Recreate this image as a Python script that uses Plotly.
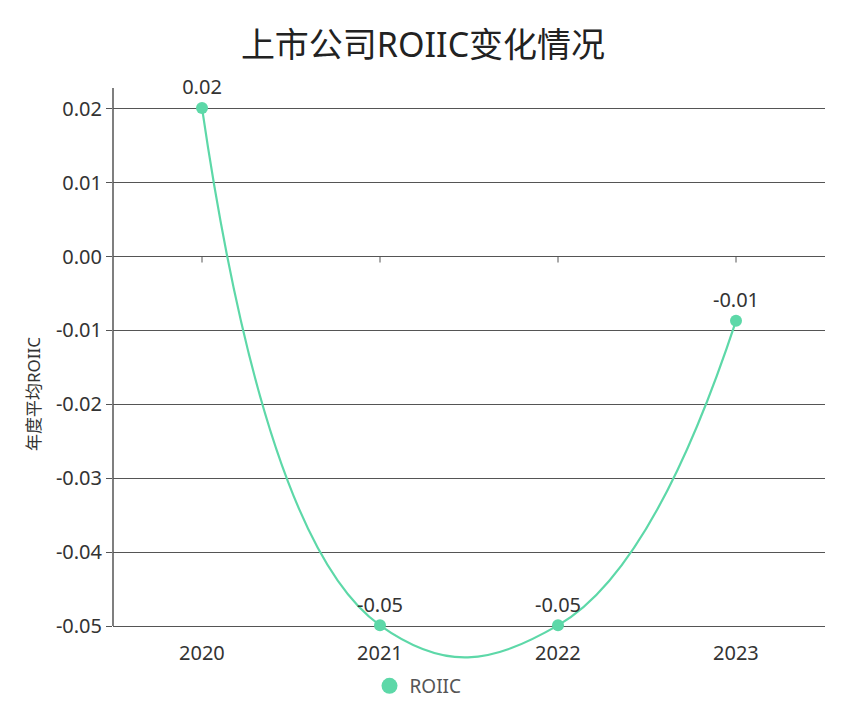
import plotly.graph_objects as go

years = ["2020", "2021", "2022", "2023"]
roiic = [0.0201, -0.0499, -0.0499, -0.0087]
labels = ["0.02", "-0.05", "-0.05", "-0.01"]
y_ticks = [0.02, 0.01, 0.0, -0.01, -0.02, -0.03, -0.04, -0.05]
y_tick_text = ["0.02", "0.01", "0.00", "-0.01", "-0.02", "-0.03", "-0.04", "-0.05"]

FONT = "Noto Sans, Noto Sans CJK SC, sans-serif"
GREEN = "#5DD8A8"
GRID = "#555555"
Y_TOP = 0.0228
Y_AXIS_MIN = -0.05
Y_VIEW_MIN = -0.060  # extra room so the smoothed curve can dip below the axis

# page has an 8px body margin: figure is sized to fit the 847x720 window
W, H = 839, 712
M_L, M_R, M_T, M_B = 105, 22, 80, 20
PLOT_H = H - M_T - M_B

fig = go.Figure()
# smoothed line (no legend entry)
fig.add_trace(go.Scatter(
    x=years, y=roiic, name="ROIIC", showlegend=False,
    mode="lines",
    line=dict(color=GREEN, width=2.2, shape="spline", smoothing=1.3),
    hoverinfo="skip",
))
# points + labels
fig.add_trace(go.Scatter(
    x=years, y=roiic, name="ROIIC", showlegend=False,
    mode="markers+text",
    marker=dict(color=GREEN, size=12),
    text=labels, textposition="top center",
    textfont=dict(family=FONT, size=20, color="#333333"),
    cliponaxis=False,
))
# legend entry: circle only
fig.add_trace(go.Scatter(
    x=[None], y=[None], name="ROIIC", mode="markers",
    marker=dict(color=GREEN, size=16),
))

# left axis line from the bottom of the scale to the top
fig.add_shape(type="line", xref="paper", yref="y", x0=0, x1=0,
              y0=Y_AXIS_MIN, y1=Y_TOP, line=dict(color=GRID, width=1.5))

# small tick marks on the zero line at each category
for i, yr in enumerate(years):
    fig.add_shape(type="line", xref="x", yref="y", x0=i, x1=i,
                  ysizemode="pixel", yanchor=0, y0=0, y1=-6,
                  line=dict(color=GRID, width=1))

# category labels just below the -0.05 line
for i, yr in enumerate(years):
    fig.add_annotation(x=i, y=Y_AXIS_MIN, xref="x", yref="y", text=yr,
                       showarrow=False, yshift=-26, yanchor="middle",
                       font=dict(size=20, color="#333333", family=FONT))

fig.update_layout(
    width=W, height=H,
    margin=dict(l=M_L, r=M_R, t=M_T, b=M_B),
    paper_bgcolor="white", plot_bgcolor="white",
    font=dict(family=FONT, color="#333333"),
    title=dict(text="上市公司ROIIC变化情况", x=415 / W, xref="container", xanchor="center",
               y=1 - 37 / H, yref="container", yanchor="middle",
               font=dict(size=34, color="#222222", family=FONT)),
    showlegend=True,
    legend=dict(orientation="h", x=(410 - M_L) / (W - M_L - M_R), xanchor="center",
                xref="paper", y=(H - M_B - 678) / PLOT_H, yref="paper", yanchor="middle",
                font=dict(size=19, color="#555555", family=FONT),
                bgcolor="rgba(0,0,0,0)"),
    xaxis=dict(type="category", range=[-0.5, 3.5], showgrid=False,
               showline=False, ticks="", zeroline=False, showticklabels=False,
               automargin=False),
    yaxis=dict(range=[Y_VIEW_MIN, Y_TOP], tickvals=y_ticks, ticktext=y_tick_text,
               showgrid=True, gridcolor=GRID, gridwidth=1.2,
               zeroline=True, zerolinecolor=GRID, zerolinewidth=1.2,
               showline=False,
               ticks="outside", ticklen=6, tickcolor=GRID,
               tickfont=dict(size=20, color="#333333"),
               automargin=False,
               title=dict(text="年度平均ROIIC", font=dict(size=17, color="#333333"), standoff=10)),
)

fig.write_html("out.html")
